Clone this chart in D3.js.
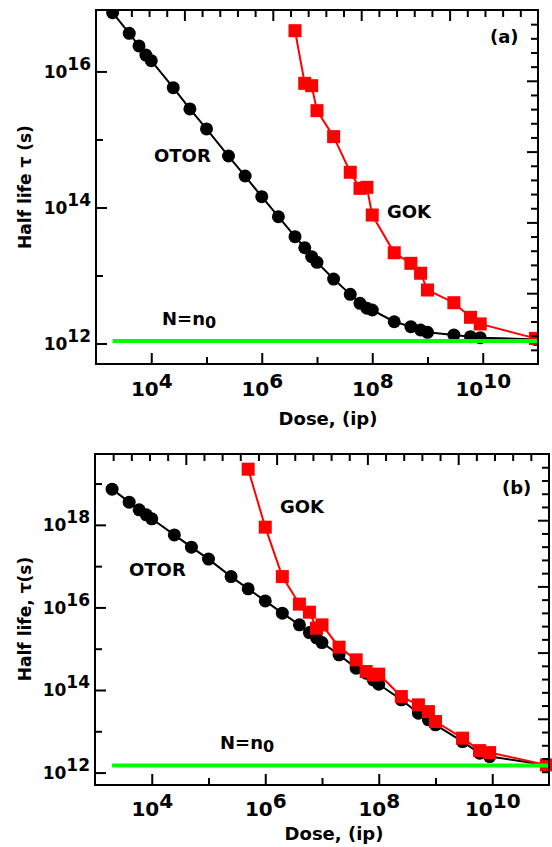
<!DOCTYPE html>
<html><head><meta charset="utf-8">
<script src="https://cdn.jsdelivr.net/npm/d3@7"></script>
<style>
body{margin:0;background:#fff;}
svg{display:block;font-family:"DejaVu Sans",sans-serif;font-weight:bold;}
</style></head>
<body><svg id="c" width="552" height="847"></svg>
<script>
// ---- data ----
const doses = [2e3,4e3,6e3,8e3,1e4,2.5e4,5e4,1e5,2.5e5,5e5,1e6,2e6,4e6,6e6,8e6,1e7,2e7,4e7,6e7,8e7,1e8,2.5e8,5e8,7.5e8,1e9,3e9,6e9,9e9,9e10];
const otorA = [7.3e16,3.63e16,2.37e16,1.74e16,1.44e16,5.77e15,2.81e15,1.43e15,5.71e14,2.9e14,1.44e14,7.31e13,3.72e13,2.56e13,1.89e13,1.56e13,8.87e12,5.28e12,3.9e12,3.3e12,3.11e12,2.09e12,1.77e12,1.58e12,1.46e12,1.33e12,1.26e12,1.22e12,1.15e12];
const gokAStart = 12; // GOK (a) starts at dose 4e6
const gokA = [3.97e16,6.68e15,6.17e15,2.65e15,1.1e15,3.29e14,1.91e14,1.98e14,7.74e13,2.16e13,1.51e13,1.08e13,6.12e12,3.98e12,2.43e12,1.94e12,1.19e12];
const otorB = [7.33e18,3.55e18,2.31e18,1.75e18,1.4e18,5.71e17,2.88e17,1.48e17,5.58e16,2.82e16,1.44e16,7.26e15,3.78e15,2.46e15,1.83e15,1.41e15,7.1e14,3.38e14,2.55e14,1.76e14,1.38e14,5.79e13,2.74e13,1.89e13,1.43e13,5.62e12,2.94e12,2.44e12,1.53e12];
const gokBStart = 9; // GOK (b) starts at dose 5e5
const gokB = [2.23e19,8.79e17,5.58e16,1.2e16,7.67e15,3.13e15,3.78e15,1.09e15,5.37e14,2.8e14,2.32e14,2.42e14,6.93e13,4.37e13,3.0e13,1.72e13,6.81e12,3.4e12,3.05e12,1.53e12];
const nLevelA = 1.09e12;
const nLevelB = 1.48e12;
const xDomain = [1e3,1e11];
const yDomainA = [5e11,8e16];
const yDomainB = [5e11,5.2e19];
const xMajor = [1e4,1e6,1e8,1e10];
const xMinor = [1e5,1e7,1e9];
const yMajorA = [1e12,1e14,1e16];
const yMinorA = [1e13,1e15];
const yMajorB = [1e12,1e14,1e16,1e18];
const yMinorB = [1e13,1e15,1e17,1e19];

const svg = d3.select("#c");

function supLabel(sel, exp, supDy){
  sel.text(null);
  sel.append("tspan").text("10");
  sel.append("tspan").attr("dy", supDy).text(exp);
}

function panel(cfg){
  const {L,T,R,B} = cfg;
  const x = d3.scaleLog().domain(xDomain).range([L,R]);
  const y = d3.scaleLog().domain(cfg.yDomain).range([B,T]);
  const g = svg.append("g");
  const id = "clip"+cfg.name;
  if(cfg.clip){
    svg.append("clipPath").attr("id",id).append("rect")
      .attr("x",L).attr("y",T).attr("width",R-L).attr("height",B-T);
  }
  const dg = g.append("g");
  if(cfg.clip) dg.attr("clip-path","url(#"+id+")");

  const otorPts = cfg.otor.map((v,i)=>[doses[i],v]);
  const gokPts = cfg.gok.map((v,i)=>[doses[i+cfg.gokStart],v]);
  const line = d3.line().x(d=>x(d[0])).y(d=>y(d[1]));

  dg.append("path").datum(otorPts).attr("d",line)
    .attr("fill","none").attr("stroke","#000").attr("stroke-width",2);
  dg.selectAll("circle.o").data(otorPts).join("circle")
    .attr("cx",d=>x(d[0])).attr("cy",d=>y(d[1])).attr("r",6.5).attr("fill","#000");
  dg.append("path").datum(gokPts).attr("d",line)
    .attr("fill","none").attr("stroke","#ff0000").attr("stroke-width",2);
  const s = 13;
  dg.selectAll("rect.g").data(gokPts).join("rect")
    .attr("x",d=>x(d[0])-s/2).attr("y",d=>y(d[1])-s/2)
    .attr("width",s).attr("height",s).attr("fill","#ff0000");
  // N = n0 line
  dg.append("line").attr("x1",x(doses[0])).attr("x2",R)
    .attr("y1",y(cfg.nLevel)).attr("y2",y(cfg.nLevel))
    .attr("stroke","#00ff00").attr("stroke-width",4);

  // axes: bottom
  const ax = g.append("g").attr("transform",`translate(0,${B})`)
    .call(d3.axisBottom(x).tickValues(xMajor).tickSize(-11).tickPadding(0));
  ax.selectAll(".tick text").each(function(d){
      d3.select(this).attr("y",cfg.xLabDy).attr("dy",null)
        .style("font-size","20px").style("font-family","DejaVu Sans").style("font-weight","bold");
      supLabel(d3.select(this), String(Math.round(Math.log10(d))), -8);
    });
  g.append("g").attr("transform",`translate(0,${B})`)
    .call(d3.axisBottom(x).tickValues(xMinor).tickSize(-7).tickFormat(""));
  // left
  const ay = g.append("g").attr("transform",`translate(${L},0)`)
    .call(d3.axisLeft(y).tickValues(cfg.yMajor).tickSize(-11).tickPadding(0));
  ay.selectAll(".tick text").each(function(d){
      d3.select(this).attr("x",-5).attr("dy",null).attr("y",6)
        .style("font-size","17px").style("font-family","DejaVu Sans").style("font-weight","bold");
      supLabel(d3.select(this), String(Math.round(Math.log10(d))), -8);
    });
  g.append("g").attr("transform",`translate(${L},0)`)
    .call(d3.axisLeft(y).tickValues(cfg.yMinor).tickSize(-7).tickFormat(""));
  // top & right linear (unlabelled)
  const xt = d3.scaleLinear().domain([0,5]).range([L,R]);
  const yr = d3.scaleLinear().domain([0,5]).range([B,T]);
  g.append("g").attr("transform",`translate(0,${T})`)
    .call(d3.axisTop(xt).tickValues(d3.range(1,5)).tickSize(-11).tickFormat(""));
  g.append("g").attr("transform",`translate(0,${T})`)
    .call(d3.axisTop(xt).tickValues(d3.range(0,25).filter(i=>i%5).map(i=>i/5)).tickSize(-7).tickFormat(""));
  g.append("g").attr("transform",`translate(${R},0)`)
    .call(d3.axisRight(yr).tickValues(d3.range(1,5)).tickSize(-11).tickFormat(""));
  g.append("g").attr("transform",`translate(${R},0)`)
    .call(d3.axisRight(yr).tickValues(d3.range(0,25).filter(i=>i%5).map(i=>i/5)).tickSize(-7).tickFormat(""));
  g.selectAll(".domain").remove();
  g.selectAll(".tick line").attr("stroke","#000").attr("stroke-width",2);

  g.append("rect").attr("x",L).attr("y",T).attr("width",R-L).attr("height",B-T)
    .attr("fill","none").attr("stroke","#000").attr("stroke-width",2);

  // texts
  const t = (x0,y0,str,size)=> g.append("text").attr("x",x0).attr("y",y0)
      .style("font-size",size+"px").text(str);
  t(cfg.otorLab[0],cfg.otorLab[1],"OTOR",18);
  t(cfg.gokLab[0],cfg.gokLab[1],"GOK",18);
  t(cfg.tagLab[0],cfg.tagLab[1],cfg.tag,18);
  const nt = g.append("text").attr("x",cfg.nLab[0]).attr("y",cfg.nLab[1]).style("font-size","18px");
  nt.append("tspan").text("N=n");
  nt.append("tspan").attr("dy",3).style("font-size","16px").text("0");

  g.append("text").attr("x",cfg.xTitle[0]).attr("y",cfg.xTitle[1])
    .attr("text-anchor","middle").style("font-size","18px").text("Dose, (ip)");
  g.append("text").attr("transform",`translate(${cfg.yTitle[0]},${cfg.yTitle[1]}) rotate(-90)`)
    .attr("text-anchor","middle").style("font-size","17px").text(cfg.yTitleText);
}

panel({name:"a",L:96,T:10,R:538,B:364,yDomain:yDomainA,clip:true,
  otor:otorA,gok:gokA,gokStart:gokAStart,nLevel:nLevelA,
  yMajor:yMajorA,yMinor:yMinorA,xLabDy:32,
  otorLab:[154,162],gokLab:[387,218],tagLab:[490,43],tag:"(a)",nLab:[162,325],
  xTitle:[328,425],yTitle:[31,187],yTitleText:"Half life \u03c4 (s)"});
panel({name:"b",L:95,T:454,R:549,B:785,yDomain:yDomainB,clip:false,
  otor:otorB,gok:gokB,gokStart:gokBStart,nLevel:nLevelB,
  yMajor:yMajorB,yMinor:yMinorB,xLabDy:31,
  otorLab:[129,576],gokLab:[280,513],tagLab:[502,494],tag:"(b)",nLab:[220,749],
  xTitle:[334,840],yTitle:[31,619],yTitleText:"Half life, \u03c4(s)"});
</script></body></html>
